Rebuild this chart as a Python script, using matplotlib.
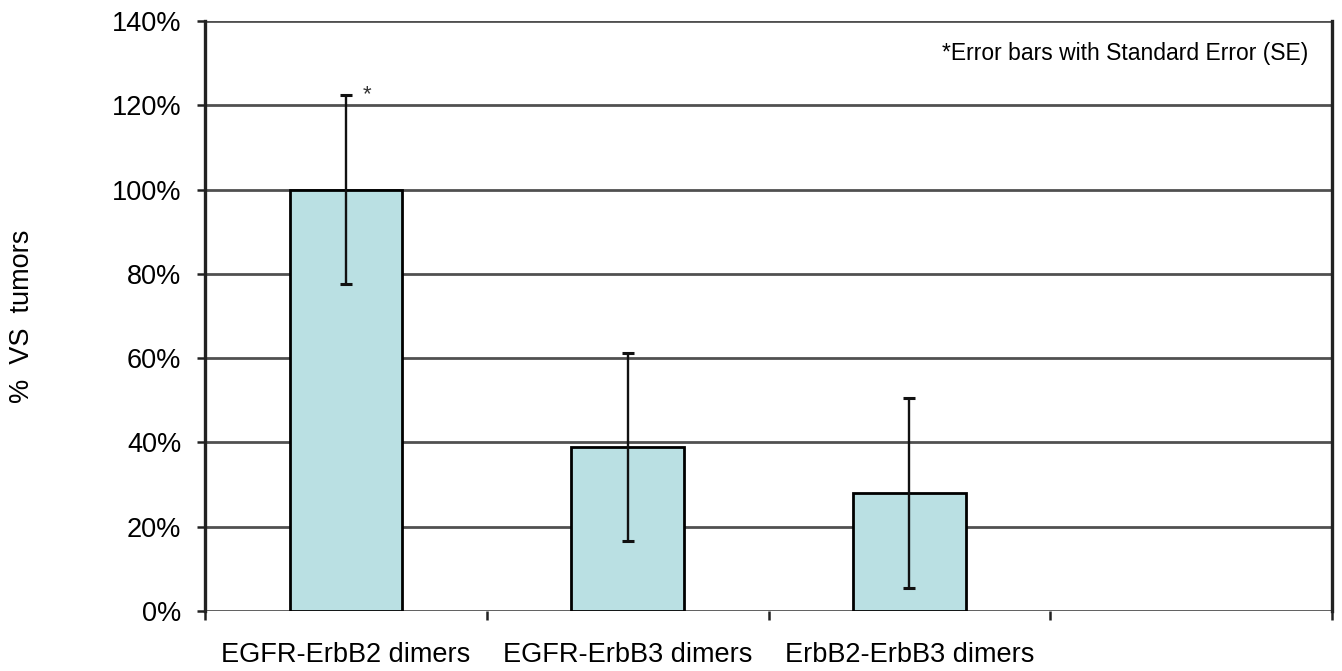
import matplotlib
matplotlib.use("Agg")
from matplotlib import pyplot as plt
from matplotlib.ticker import PercentFormatter, FixedLocator

categories = ["EGFR-ErbB2 dimers", "EGFR-ErbB3 dimers", "ErbB2-ErbB3 dimers"]
means = [100.0, 39.0, 28.0]
errors = [22.4, 22.3, 22.5]
yticks = [0, 20, 40, 60, 80, 100, 120, 140]

plt.rcParams['font.family'] = ['Liberation Sans', 'DejaVu Sans']

fig = plt.figure(figsize=(13.42, 6.71), dpi=100)
ax = fig.add_axes([205 / 1342, 1 - 611 / 671, 1127 / 1342, 590 / 671])

xpos = list(range(len(categories)))
ax.bar(xpos, means, width=0.40, color="#bae0e3", edgecolor="black", linewidth=2, zorder=2)
ax.errorbar(xpos, means, yerr=errors, fmt="none", ecolor="#111111", elinewidth=1.7,
            capsize=4.5, capthick=2.2, zorder=3)

# asterisk next to the first error bar cap
ax.text(xpos[0] + 0.075, means[0] + errors[0], "*", fontsize=16, ha="center", va="center", color="#333333")

ax.set_xlim(-0.5, 3.5)
ax.set_ylim(0, 140)
ax.set_yticks(yticks)
ax.yaxis.set_major_formatter(PercentFormatter(decimals=0))
ax.tick_params(axis="y", direction="out", length=6, width=1.8, color="#222222", labelsize=19.5, pad=11)

ax.set_xticks(xpos)
ax.set_xticklabels(categories, fontsize=19.5)
ax.tick_params(axis="x", which="major", length=0, pad=22)
ax.xaxis.set_minor_locator(FixedLocator([-0.5, 0.5, 1.5, 2.5, 3.5]))
ax.tick_params(axis="x", which="minor", direction="out", length=6.5, width=1.8, color="#222222")

ax.grid(axis="y", color="#505050", linewidth=2)
ax.set_axisbelow(True)
for side in ["top", "bottom"]:
    ax.spines[side].set_visible(False)
for side in ["left", "right"]:
    ax.spines[side].set_color("#222222")
    ax.spines[side].set_linewidth(2.4)

ax.set_ylabel("%  VS  tumors", fontsize=19.5)
ax.yaxis.set_label_coords(-0.151, 0.5)

ax.text(0.979, 0.945, "*Error bars with Standard Error (SE)", transform=ax.transAxes,
        ha="right", va="center", fontsize=16.5)

fig.savefig("out.png", dpi=100)
